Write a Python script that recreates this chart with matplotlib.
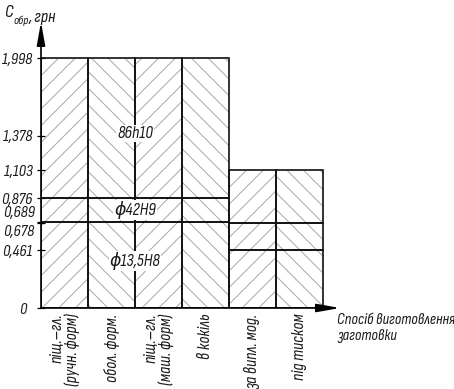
import matplotlib
matplotlib.use("Agg")
import matplotlib.pyplot as plt
from matplotlib import font_manager as fm

# ---------------- data ----------------
categories = ["піщ.–гл.\n(ручн. форм)", "обол. форм.", "піщ.–гл.\n(маш. форм)",
              "в кокіль", "за випл. мод.", "під тиском"]
totals = [1.998, 1.998, 1.998, 1.998, 1.103, 1.103]     # full cost
lower = [0.689, 0.689, 0.689, 0.689, 0.461, 0.461]      # first divider
middle = [0.876, 0.876, 0.876, 0.876, 0.678, 0.678]     # second divider
ytick_values = [0, 0.461, 0.678, 0.689, 0.876, 1.103, 1.378, 1.998]
region_labels = ["86h10", "ϕ42H9", "ϕ13,5H8"]
ylabel_main, ylabel_sub, ylabel_unit = "C", "обр", ", грн"
xlabel = "Спосіб виготовлення\nзаготовки"

# ---------------- fonts ----------------
avail = {f.name for f in fm.fontManager.ttflist}
fam = [f for f in ["Sofia Sans Condensed", "Cuprum", "DejaVu Sans"] if f in avail]
plt.rcParams['font.family'] = fam
plt.rcParams['font.style'] = 'italic'
plt.rcParams['font.weight'] = 'light'
plt.rcParams['hatch.linewidth'] = 0.7
txt_col = "#1a1a1a"
FS = 12

W, H = 454, 389
fig = plt.figure(figsize=(W / 100, H / 100), dpi=100)
# axes box in pixels: left 41, right 340, bottom 308, top 22
L, R, B, T = 41, 340, 308, 22
ax = fig.add_axes([L / W, 1 - B / H, (R - L) / W, (B - T) / H])
ax.set_xlim(-0.5, -0.5 + (R - L) / 47.0)
ax.set_ylim(0, (B - T) / 125.1)

x = list(range(len(categories)))
hatches = ['//' if i % 2 == 0 else '\\\\' for i in x]

# hatched fill
for i in x:
    ax.bar(i, totals[i], width=1.0, bottom=0, facecolor="white",
           edgecolor="#a8a8a8", linewidth=0, hatch=hatches[i], zorder=1)
# outlines of the stacked segments
for i in x:
    segs = [(0, lower[i]), (lower[i], middle[i]), (middle[i], totals[i])]
    for b0, b1 in segs:
        ax.bar(i, b1 - b0, width=1.0, bottom=b0, fill=False,
               edgecolor="#111111", linewidth=1.2, zorder=2)

# region labels on the first group
ys = [(middle[0] + totals[0]) / 2 - 0.04, (lower[0] + middle[0]) / 2, lower[0] / 2 + 0.03]
for lab, yv in zip(region_labels, ys):
    ax.text(1.5, yv, lab, ha='center', va='center', fontsize=12.5, color=txt_col,
            zorder=4, bbox=dict(facecolor='white', edgecolor='none', pad=0.8))

# axes / spines
for s in ax.spines.values():
    s.set_visible(False)
ax.annotate('', xy=(0, 1), xytext=(0, 0), xycoords='axes fraction',
            arrowprops=dict(arrowstyle='-|>,head_length=1.4,head_width=0.25',
                            color='black', lw=1.2, shrinkA=0, shrinkB=0,
                            mutation_scale=10), zorder=5)
ax.annotate('', xy=(1, 0), xytext=(0, 0), xycoords='axes fraction',
            arrowprops=dict(arrowstyle='-|>,head_length=1.4,head_width=0.25',
                            color='black', lw=1.2, shrinkA=0, shrinkB=0,
                            mutation_scale=10), zorder=5)

def fmt(v):
    return "0" if v == 0 else f"{v:.3f}".replace('.', ',')

close = {0.689: 8.5, 0.678: -8.5}
ax.set_yticks(ytick_values)
ax.set_yticklabels(["" if v in close else fmt(v) for v in ytick_values])
ax.tick_params(axis='y', direction='inout', length=6, width=0.9, pad=3,
               labelsize=FS, labelcolor=txt_col)
for v, dy in close.items():
    ax.annotate(fmt(v), xy=(0, v), xycoords=('axes fraction', 'data'),
                xytext=(-4.5, dy * 0.72), textcoords='offset points',
                ha='right', va='center', fontsize=FS, color=txt_col)
ax.get_yticklabels()[0].set_x(-0.02)

ax.set_xticks(x)
ax.set_xticklabels(categories, rotation=90, fontsize=12.5, color=txt_col,
                   linespacing=1.0)
ax.tick_params(axis='x', length=0, pad=4)
for lbl in ax.get_xticklabels():
    lbl.set_multialignment('right')
    lbl.set_va('top')

# axis titles
t1 = fig.text(4 / W, 1 - 17 / H, ylabel_main, fontsize=13, color=txt_col,
              ha='left', va='baseline')
t2 = ax.annotate(ylabel_sub, xy=(1, 0), xycoords=t1, xytext=(0.5, -3),
                 textcoords='offset points', fontsize=9, color=txt_col,
                 ha='left', va='baseline')
ax.annotate(ylabel_unit, xy=(1, 0), xycoords=t2, xytext=(0, 3),
            textcoords='offset points', fontsize=13, color=txt_col,
            ha='left', va='baseline')
fig.text(337 / W, 1 - 313 / H, xlabel, fontsize=11.5, color=txt_col,
         ha='left', va='top', linespacing=1.15)

fig.savefig("out.png", dpi=100)
